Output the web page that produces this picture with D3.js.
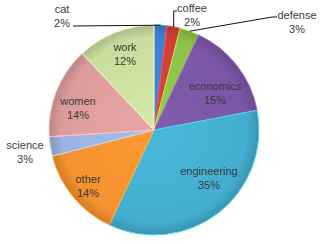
<!DOCTYPE html>
<html>
<head>
<meta charset="utf-8">
<script src="https://cdn.jsdelivr.net/npm/d3@7"></script>
<style>
	body { margin: 0; background: #fff; }
	text { font-family: "Liberation Sans", Arial, sans-serif; font-size: 11px; fill: #3a3a3a; }
</style>
</head>
<body>
<div id="wrapper"></div>
<script>
/////////////////////////////////////////////////
// data /////////////////////////////////////////
/////////////////////////////////////////////////

const categories = ["cat", "coffee", "defense", "economics", "engineering", "other", "science", "women", "work"];
const shares = [2, 2, 3, 15, 35, 14, 3, 14, 12];
const colors = ["#3f7fcf", "#d23f3b", "#8fc147", "#7b57a6", "#43aecf", "#f5912f", "#9db2e2", "#dd9c9c", "#c9dd9e"];

const data = categories.map((c, i) => ({ name: c, value: shares[i], color: colors[i] }));

/////////////////////////////////////////////////
// dimensions ///////////////////////////////////
/////////////////////////////////////////////////

const width = 320;
const height = 244;
const cx = 154;
const cy = 130;
const radius = 105;

// label anchors relative to pie centre (first line baseline)
const labelAt = {
	cat: [-92, -117],
	coffee: [38, -118],
	defense: [143, -111],
	economics: [61, -40],
	engineering: [55, 45],
	other: [-66, 53],
	science: [-129, 19],
	women: [-76, -25],
	work: [-29, -79]
};

// leader lines: extra points after the slice edge point
const leaders = {
	cat: (p) => [p, [-81, -104]],
	coffee: (p) => [p, [p[0], -119], [23, -119]],
	defense: (p) => [p, [118, -113], [123, -113]]
};

/////////////////////////////////////////////////
// svg //////////////////////////////////////////
/////////////////////////////////////////////////

const svg = d3.select("#wrapper").append("svg")
	.attr("width", width)
	.attr("height", height);

const defs = svg.append("defs");

data.forEach((d, i) => {
	const base = d3.color(d.color);
	const g = defs.append("radialGradient")
		.attr("id", "grad" + i)
		.attr("gradientUnits", "userSpaceOnUse")
		.attr("cx", 0).attr("cy", 0).attr("r", radius);
	g.append("stop").attr("offset", "0%").attr("stop-color", base.brighter(0.15));
	g.append("stop").attr("offset", "88%").attr("stop-color", base);
	g.append("stop").attr("offset", "100%").attr("stop-color", base.darker(0.45));
});

const bounds = svg.append("g")
	.attr("transform", `translate(${cx},${cy})`);

/////////////////////////////////////////////////
// pie //////////////////////////////////////////
/////////////////////////////////////////////////

const pie = d3.pie()
	.value((d) => d.value)
	.sort(null);

const arc = d3.arc().innerRadius(0).outerRadius(radius);
const rimArc = d3.arc().innerRadius(radius).outerRadius(radius);

const arcs = pie(data);

bounds.selectAll("path.slice")
	.data(arcs)
	.join("path")
	.attr("class", "slice")
	.attr("d", arc)
	.attr("fill", (d, i) => `url(#grad${i})`)
	.attr("stroke", (d) => d3.color(d.data.color).brighter(0.6))
	.attr("stroke-width", 1)
	.attr("stroke-linejoin", "round");

/////////////////////////////////////////////////
// leader lines /////////////////////////////////
/////////////////////////////////////////////////

const line = d3.line();

bounds.selectAll("path.leader")
	.data(arcs.filter((d) => leaders[d.data.name]))
	.join("path")
	.attr("class", "leader")
	.attr("d", (d) => line(leaders[d.data.name](rimArc.centroid(d))))
	.attr("fill", "none")
	.attr("stroke", "#111")
	.attr("stroke-width", 1);

/////////////////////////////////////////////////
// labels ///////////////////////////////////////
/////////////////////////////////////////////////

const labels = bounds.selectAll("text.label")
	.data(arcs)
	.join("text")
	.attr("class", "label")
	.attr("text-anchor", "middle")
	.attr("transform", (d) => `translate(${labelAt[d.data.name]})`);

labels.append("tspan")
	.attr("x", 0)
	.attr("y", 0)
	.text((d) => d.data.name);

labels.append("tspan")
	.attr("x", 0)
	.attr("y", 14)
	.text((d) => d.data.value + "%");
</script>
</body>
</html>
